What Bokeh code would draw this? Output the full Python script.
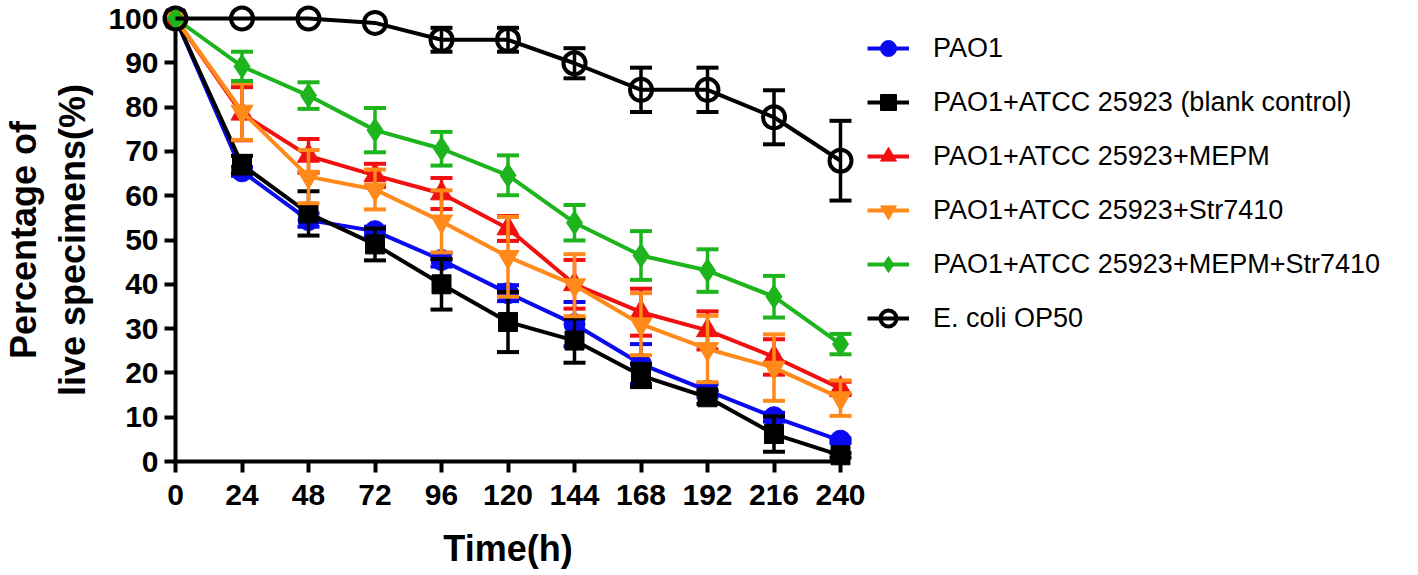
import numpy as np
from bokeh.plotting import figure
from bokeh.models import Range1d, FixedTicker, Legend, LegendItem
from bokeh.embed import file_html
from bokeh.resources import INLINE

time_h = [0, 24, 48, 72, 96, 120, 144, 168, 192, 216, 240]
x_ticks = [0, 24, 48, 72, 96, 120, 144, 168, 192, 216, 240]
y_ticks = [0, 10, 20, 30, 40, 50, 60, 70, 80, 90, 100]

pao1 = [100, 65.5, 54.5, 52, 45.5, 38, 31, 22, 16, 10, 4.7]
pao1_err = [0, 1, 1.5, 1, 1.5, 1.8, 5, 4.5, 1.5, 1, 0.5]
blank = [100, 67, 56, 49, 40, 31.5, 27.3, 19.4, 14.5, 6.2, 1.4]
blank_err = [0, 2, 5, 3.6, 5.7, 6.8, 5, 2.6, 1.5, 4, 0.5]
mepm = [100, 78.5, 69, 64.6, 60.5, 52.6, 40, 33.7, 29.6, 23.6, 16.5]
mepm_err = [0, 6, 3.8, 2.6, 3.5, 2.8, 5.5, 5.3, 4.3, 4, 1.5]
str7410 = [100, 79, 64.3, 61.4, 54.2, 46.2, 39.8, 31, 25.4, 21.2, 14.3]
str7410_err = [0, 6.4, 6, 4.5, 7, 9, 7, 7, 7.5, 7.5, 4]
combo = [100, 89.2, 82.6, 74.8, 70.6, 64.6, 53.9, 46.5, 43.1, 37.2, 26.5]
combo_err = [0, 3.3, 3, 5, 3.8, 4.5, 4, 5.5, 4.8, 4.7, 2.3]
ecoli = [100, 100, 100, 99, 95.2, 95.2, 89.9, 83.9, 83.9, 77.7, 67.9]
ecoli_err = [0, 0, 0, 0, 2.7, 2.7, 3.4, 5, 5, 6.1, 9]

labels = ["PAO1", "PAO1+ATCC 25923 (blank control)", "PAO1+ATCC 25923+MEPM",
          "PAO1+ATCC 25923+Str7410", "PAO1+ATCC 25923+MEPM+Str7410", "E. coli OP50"]
colors = ["#0A0AF0", "#000000", "#F01010", "#FF8A1A", "#1EB41E", "#000000"]
markers = ["circle", "square", "triangle", "inverted_triangle", "diamond", "circle"]
sizes = [21, 19, 22, 22, 24, 22]

series = [(pao1, pao1_err), (blank, blank_err), (mepm, mepm_err),
          (str7410, str7410_err), (combo, combo_err), (ecoli, ecoli_err)]

p = figure(frame_width=665, frame_height=443, output_backend="svg", toolbar_location=None,
           x_range=Range1d(0, 240), y_range=Range1d(0, 100),
           min_border_left=160, min_border_top=18, min_border_right=20, min_border_bottom=100)
p.outline_line_color = None
p.grid.grid_line_color = None
p.background_fill_color = "white"

for ax in (p.xaxis[0], p.yaxis[0]):
    ax.axis_line_width = 4
    ax.axis_line_color = "black"
    ax.major_tick_line_width = 4
    ax.major_tick_out = 11
    ax.major_tick_in = 0
    ax.minor_tick_line_color = None
    ax.major_label_text_font = "Liberation Sans"
    ax.major_label_text_font_style = "bold"
    ax.major_label_text_font_size = "30px"
    ax.major_label_text_color = "black"
    ax.axis_label_text_font = "Liberation Sans"
    ax.axis_label_text_font_style = "bold"
    ax.axis_label_text_font_size = "36px"
    ax.axis_label_text_color = "black"

p.xaxis.ticker = FixedTicker(ticks=x_ticks)
p.yaxis.ticker = FixedTicker(ticks=y_ticks)
p.xaxis.axis_label = "Time(h)"
p.yaxis.axis_label = "Percentage of\nlive specimens(%)"
p.xaxis.major_label_standoff = 12
p.yaxis.major_label_standoff = 6
p.xaxis.axis_label_standoff = 20
p.yaxis.axis_label_standoff = 12

items = []
for i, ((vals, errs), lab, col, mk, sz) in enumerate(zip(series, labels, colors, markers, sizes)):
    t = np.array(time_h, dtype=float)
    v = np.array(vals, dtype=float)
    e = np.array(errs, dtype=float)
    m = e > 0
    p.segment(x0=t[m], y0=v[m] - e[m], x1=t[m], y1=v[m] + e[m],
              line_color=col, line_width=3.5, level="overlay")
    p.scatter(x=np.concatenate([t[m], t[m]]), y=np.concatenate([v[m] - e[m], v[m] + e[m]]),
              marker="dash", size=22, line_color=col, line_width=4, level="overlay")
    ln = p.line(t, v, line_color=col, line_width=4, level="overlay")
    if i == 5:
        sc = p.scatter(t, v, marker=mk, size=sz, fill_color=None, line_color=col,
                       line_width=4, level="overlay")
    else:
        sc = p.scatter(t, v, marker=mk, size=sz, fill_color=col, line_color=col,
                       line_width=1, level="overlay")
    items.append(LegendItem(label=lab, renderers=[ln, sc]))

legend = Legend(items=items, location=(27, 123), orientation="vertical",
                label_text_font="Liberation Sans", label_text_font_size="27px",
                label_text_color="black", glyph_width=42, glyph_height=40,
                label_height=40, spacing=14, label_standoff=24, padding=10,
                margin=0, border_line_color=None, background_fill_alpha=0)
p.add_layout(legend, "right")

open("out.html", "w").write(file_html(p, INLINE))
